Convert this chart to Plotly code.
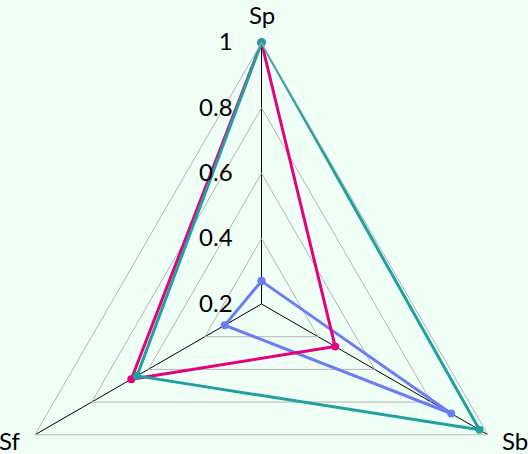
import plotly.graph_objects as go

# axes of the radar, clockwise from the top
axes = ["Sp", "Sb", "Sf"]

# values per series
blue = [0.27, 0.87, 0.33]
magenta = [1.0, 0.46, 0.66]
teal = [1.0, 0.97, 0.64]

radial_ticks = [0.2, 0.4, 0.6, 0.8, 1]
radial_labels = ["0.2", "0.4", "0.6", "0.8", "1"]


def radar_trace(values, color):
    # close the polygon by repeating the first point
    return go.Scatterpolar(
        r=values + values[:1],
        theta=axes + axes[:1],
        mode="lines+markers",
        line=dict(color=color, width=3),
        marker=dict(color=color, size=8),
        showlegend=False,
    )


fig = go.Figure()
fig.add_trace(radar_trace(blue, "#6B7CF5"))
fig.add_trace(radar_trace(magenta, "#E6007E"))
fig.add_trace(radar_trace(teal, "#21A0A0"))

# plot area: 41px top margin, 526px tall -> paper y from pixel row
H_TOP, H_PLOT = 41, 526


def py(row):
    return (H_TOP + H_PLOT - row) / H_PLOT


# category names placed outside the triangle corners
label_pos = {
    "Sp": dict(x=261.5 / 528, y=py(15), xanchor="center"),
    "Sb": dict(x=500 / 528, y=py(440), xanchor="left"),
    "Sf": dict(x=22 / 528, y=py(440), xanchor="right"),
}
for name in axes:
    fig.add_annotation(
        text=name, xref="paper", yref="paper", yanchor="middle",
        showarrow=False, font=dict(size=24), **label_pos[name]
    )

fig.update_layout(
    width=528,
    height=570,
    margin=dict(l=0, r=0, t=H_TOP, b=3),
    paper_bgcolor="#F0FFF5",
    font=dict(family="Lato", size=24, color="black"),
    polar=dict(
        domain=dict(x=[0, 523 / 528], y=[0, 1]),
        bgcolor="#F0FFF5",
        gridshape="linear",
        radialaxis=dict(
            range=[0.2, 1],
            tickvals=radial_ticks,
            ticktext=radial_labels,
            angle=90,
            side="counterclockwise",
            tickangle=90,
            ticks="outside",
            ticklen=20,
            tickcolor="rgba(0,0,0,0)",
            showline=False,
            gridcolor="#B4B4B4",
            gridwidth=1,
        ),
        angularaxis=dict(
            categoryorder="array",
            categoryarray=axes,
            rotation=90,
            direction="clockwise",
            gridcolor="black",
            gridwidth=1,
            linecolor="#B4B4B4",
            linewidth=1,
            showticklabels=False,
            ticks="",
        ),
    ),
)

# the triangle is taller than the window; keep the page itself at window size
fig.write_html(
    "out.html",
    config=dict(displayModeBar=False),
    post_script="var d=document.getElementById('{plot_id}').parentElement;"
    "d.style.height='454px';d.style.overflow='hidden';"
    "document.body.style.margin='0';document.body.style.overflow='hidden';",
)
